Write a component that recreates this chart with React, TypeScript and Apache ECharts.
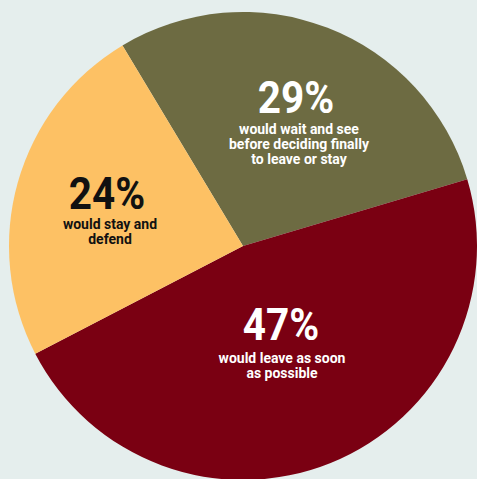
import React, { useEffect, useRef } from "react";
import * as echarts from "echarts";

const categories = ["Wait and see", "Leave as soon as possible", "Stay and defend"];
const values = [29, 47, 24];
const descriptions = [
  ["would wait and see", "before deciding finally", "to leave or stay"],
  ["would leave as soon", "as possible"],
  ["would stay and", "defend"],
];

const colors = ["#6d6b42", "#7a0012", "#fdc164"];
const textColors = ["#ffffff", "#ffffff", "#111111"];
// [big x, big y, sub x, sub y]
const labelPos = [
  [296, 75, 299, 121],
  [281, 302, 282, 350],
  [107, 171, 110, 216],
];
const FONT = 'Roboto, "Liberation Sans", sans-serif';

export default function App() {
  const ref = useRef<HTMLDivElement>(null);
  useEffect(() => {
    document.body.style.margin = "0";
    const chart = echarts.init(ref.current!, null, { renderer: "svg" });
    const graphics: any[] = [];
    values.forEach((v, i) => {
      const [bx, by, sx, sy] = labelPos[i];
      graphics.push({
        type: "text",
        x: bx,
        y: by,
        scaleX: 0.9,
        z: 100,
        style: {
          text: v + "%",
          fill: textColors[i],
          fontFamily: FONT,
          fontWeight: "bold",
          fontSize: 45,
          textAlign: "center",
          textVerticalAlign: "top",
        },
      });
      graphics.push({
        type: "text",
        x: sx,
        y: sy,
        z: 100,
        style: {
          text: descriptions[i].join("\n"),
          fill: textColors[i],
          fontFamily: FONT,
          fontWeight: "bold",
          fontSize: 14,
          lineHeight: 15,
          textAlign: "center",
          textVerticalAlign: "top",
        },
      });
    });
    chart.setOption({
      animation: false,
      backgroundColor: "#e5eeed",
      series: [
        {
          type: "pie",
          center: [243, 246],
          radius: 234,
          startAngle: 121,
          clockwise: true,
          label: { show: false },
          labelLine: { show: false },
          itemStyle: { borderWidth: 0 },
          emphasis: { disabled: true },
          data: categories.map((name, i) => ({
            name,
            value: values[i],
            itemStyle: { color: colors[i] },
          })),
        },
      ],
      graphic: graphics,
    });
    return () => chart.dispose();
  }, []);
  return (
    <div
      ref={ref}
      style={{ position: "fixed", left: 0, top: 0, width: 477, height: 479 }}
    />
  );
}
